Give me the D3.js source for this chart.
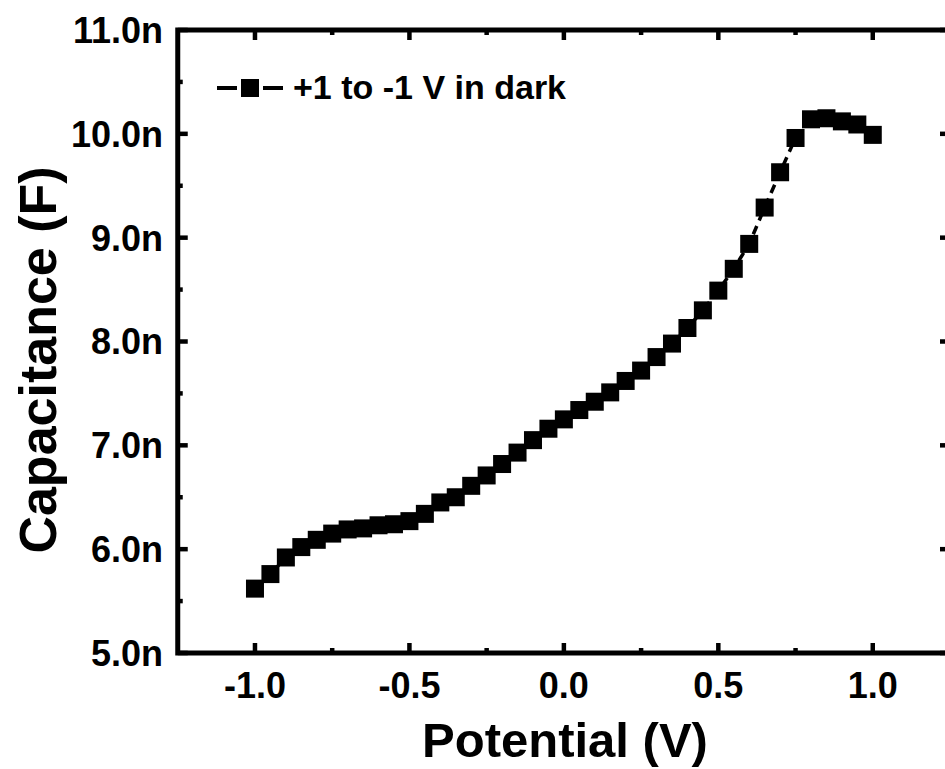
<!DOCTYPE html>
<html>
<head>
<meta charset="utf-8">
<script src="https://cdn.jsdelivr.net/npm/d3@7"></script>
<style>
  html, body { margin: 0; padding: 0; background: #fff; }
  svg { display: block; font-family: "Liberation Sans", Arial, sans-serif; font-weight: bold; }
</style>
</head>
<body>
<svg id="chart" width="945" height="769"></svg>
<script>
// Data (capacitance in nF)
const potential = [-1.00,-0.95,-0.90,-0.85,-0.80,-0.75,-0.70,-0.65,-0.60,-0.55,-0.50,-0.45,-0.40,-0.35,-0.30,-0.25,-0.20,-0.15,-0.10,-0.05,0.00,0.05,0.10,0.15,0.20,0.25,0.30,0.35,0.40,0.45,0.50,0.55,0.60,0.65,0.70,0.75,0.80,0.85,0.90,0.95,1.00];
const capacitance = [5.62,5.76,5.92,6.02,6.09,6.15,6.19,6.20,6.23,6.24,6.27,6.34,6.45,6.50,6.61,6.71,6.82,6.93,7.05,7.16,7.25,7.34,7.42,7.51,7.62,7.72,7.85,7.98,8.13,8.30,8.49,8.70,8.94,9.29,9.63,9.96,10.14,10.15,10.12,10.09,9.99];
const xTicks = [-1.0,-0.5,0.0,0.5,1.0];
const xMinor = [-0.75,-0.25,0.25,0.75];
const yTicks = [5,6,7,8,9,10,11];
const yMinor = [5.5,6.5,7.5,8.5,9.5,10.5];
const seriesName = "+1 to -1 V in dark";
const xTitle = "Potential (V)";
const yTitle = "Capacitance (F)";

const svg = d3.select("#chart");
const L = 177.75, R = 950, T = 30, B = 653;
const x = d3.scaleLinear().domain([-1.25, 1.25]).range([L, R]);
const y = d3.scaleLinear().domain([5, 11]).range([B, T]);

const axisW = 5, tickW = 4.5, majorLen = 10, minorLen = 5;

// Data line (dashed) and markers
const line = d3.line().x((d,i) => x(potential[i])).y(d => y(d));
svg.append("path")
  .datum(capacitance)
  .attr("d", line)
  .attr("fill", "none")
  .attr("stroke", "#000")
  .attr("stroke-width", 3.5)
  .attr("stroke-dasharray", "9,6");

const ms = 18;
svg.append("g").selectAll("rect")
  .data(capacitance)
  .join("rect")
  .attr("x", (d,i) => x(potential[i]) - ms/2)
  .attr("y", d => y(d) - ms/2)
  .attr("width", ms)
  .attr("height", ms)
  .attr("fill", "#000");

// Frame
const g = svg.append("g");
function vtick(xv, y0, len) {
  g.append("line").attr("x1", x(xv)).attr("x2", x(xv)).attr("y1", y0).attr("y2", y0 + len)
    .attr("stroke", "#000").attr("stroke-width", tickW);
}
function htick(yv, x0, len) {
  g.append("line").attr("y1", y(yv)).attr("y2", y(yv)).attr("x1", x0).attr("x2", x0 + len)
    .attr("stroke", "#000").attr("stroke-width", tickW);
}
xTicks.forEach(v => { vtick(v, B, -majorLen); vtick(v, T, majorLen); });
xMinor.forEach(v => { vtick(v, B, -minorLen); vtick(v, T, minorLen); });
yTicks.forEach(v => { htick(v, L, majorLen); htick(v, R, -majorLen); });
yMinor.forEach(v => { htick(v, L, minorLen); htick(v, R, -minorLen); });

g.append("rect").attr("x", L).attr("y", T).attr("width", R - L).attr("height", B - T)
  .attr("fill", "none").attr("stroke", "#000").attr("stroke-width", axisW);

// Tick labels
svg.append("g").selectAll("text").data(xTicks).join("text")
  .attr("x", d => x(d)).attr("y", 698)
  .attr("text-anchor", "middle")
  .attr("font-size", 36)
  .text(d => d3.format(".1f")(d).replace("−", "-"));

svg.append("g").selectAll("text").data(yTicks).join("text")
  .attr("x", 163).attr("y", d => y(d))
  .attr("dy", "0.36em")
  .attr("text-anchor", "end")
  .attr("font-size", 36)
  .text(d => d3.format(".1f")(d) + "n");

// Axis titles
svg.append("text").attr("x", 565).attr("y", 757).attr("text-anchor", "middle")
  .attr("font-size", 49).text(xTitle);
svg.append("text").attr("transform", "translate(56,360) rotate(-90)").attr("text-anchor", "middle")
  .attr("font-size", 52).text(yTitle);

// Legend
const lg = svg.append("g");
lg.append("line").attr("x1", 217).attr("x2", 283).attr("y1", 88).attr("y2", 88)
  .attr("stroke", "#000").attr("stroke-width", 4);
lg.append("rect").attr("x", 250 - ms/2).attr("y", 88 - ms/2).attr("width", ms).attr("height", ms).attr("fill", "#000");
lg.append("rect").attr("x", 237).attr("y", 80).attr("width", 4).attr("height", 16).attr("fill", "#fff");
lg.append("rect").attr("x", 259).attr("y", 80).attr("width", 4).attr("height", 16).attr("fill", "#fff");
lg.append("text").attr("x", 293).attr("y", 99).attr("font-size", 34).text(seriesName);
</script>
</body>
</html>
